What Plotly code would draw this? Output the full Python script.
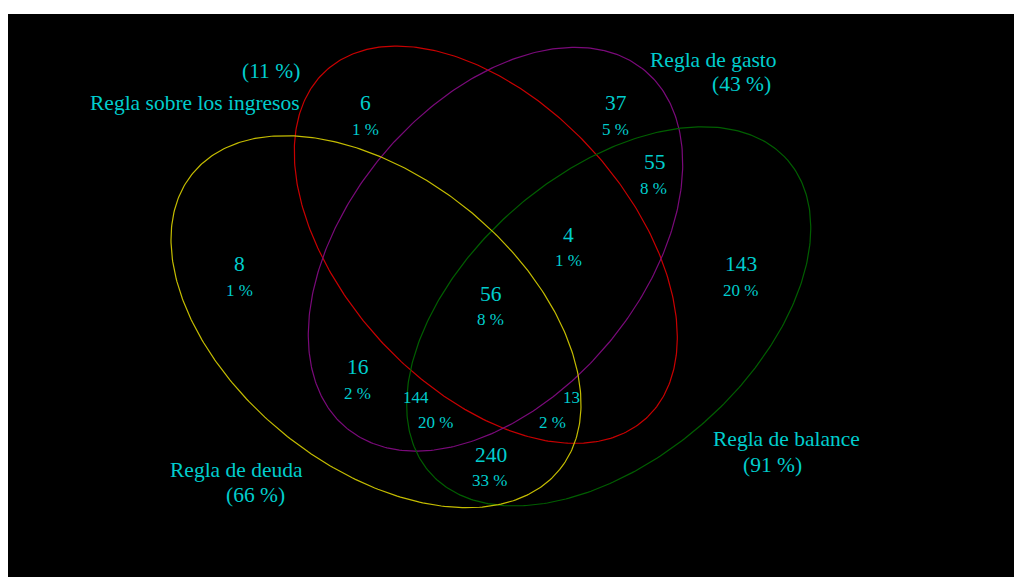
import numpy as np
import plotly.graph_objects as go

# ---- data ----
set_names = ["Regla sobre los ingresos", "Regla de gasto", "Regla de balance", "Regla de deuda"]
set_pcts = ["(11 %)", "(43 %)", "(91 %)", "(66 %)"]
region_counts = ["6", "37", "55", "4", "8", "143", "56", "16", "144", "13", "240"]
region_pcts = ["1 %", "5 %", "8 %", "1 %", "1 %", "20 %", "8 %", "2 %", "20 %", "2 %", "33 %"]

# ---- layout / geometry (pixel coordinates of the canvas) ----
ellipses = [  # cx, cy, a, b, angle(deg), colour
    (485.8, 244.7, 236.3, 142.5, 47.25, "#C80000"),
    (495.5, 249.2, 232.8, 147.0, -50.04, "#7A0A7A"),
    (608.7, 316.35, 237.5, 142.7, -41.1, "#005F00"),
    (376.0, 321.7, 235.8, 145.0, 38.8, "#C4BC00"),
]
set_name_pos = [(195, 103), (713, 60), (786, 439), (236, 470)]
set_pct_pos = [(270.5, 70.5), (741, 83.5), (772, 465), (255, 495)]
count_pos = [(365, 103), (615.5, 103), (655, 162), (568, 235), (239, 264), (741, 264),
             (490.5, 293.5), (358, 367), (416, 397.5), (571, 397.5), (490.5, 455)]
pct_pos = [(365, 129.5), (615.5, 129.5), (653.5, 188), (568, 260.5), (239, 290.5), (740, 290.5),
           (490, 319.5), (357, 393), (435, 422), (552.5, 422), (489.5, 480.5)]
count_size = [21.5] * 8 + [17, 17] + [21.5]

TXT = "#00CDCD"
FONT = "Liberation Serif"

fig = go.Figure()
t = np.linspace(0, 2 * np.pi, 400)
for cx, cy, a, b, ang, col in ellipses:
    p = np.deg2rad(ang)
    xs = cx + a * np.cos(t) * np.cos(p) - b * np.sin(t) * np.sin(p)
    ys = cy + a * np.cos(t) * np.sin(p) + b * np.sin(t) * np.cos(p)
    fig.add_trace(go.Scatter(x=xs, y=ys, mode="lines", line=dict(color=col, width=1.2),
                             hoverinfo="skip", showlegend=False))

ann = []
for txt, (x, y) in zip(set_names, set_name_pos):
    ann.append(dict(x=x, y=y, text=txt, font=dict(size=21.5)))
for txt, (x, y) in zip(set_pcts, set_pct_pos):
    ann.append(dict(x=x, y=y, text=txt, font=dict(size=21.5)))
for txt, (x, y), s in zip(region_counts, count_pos, count_size):
    ann.append(dict(x=x, y=y, text=txt, font=dict(size=s)))
for txt, (x, y) in zip(region_pcts, pct_pos):
    ann.append(dict(x=x, y=y, text=txt, font=dict(size=17)))
for a_ in ann:
    a_.update(xref="x", yref="y", showarrow=False, xanchor="center", yanchor="middle")
    a_["font"].update(family=FONT, color=TXT)

fig.update_layout(
    width=1014, height=577,
    margin=dict(l=8, t=14, r=0, b=0, pad=0),
    paper_bgcolor="white", plot_bgcolor="black",
    xaxis=dict(range=[8, 1014], visible=False, showgrid=False, zeroline=False, fixedrange=True),
    yaxis=dict(range=[577, 14], visible=False, showgrid=False, zeroline=False, fixedrange=True),
    annotations=ann,
    showlegend=False,
)
fig.write_html(
    "out.html",
    config={"displayModeBar": False},
    post_script="document.body.style.margin='0';document.body.style.overflow='hidden';",
)
